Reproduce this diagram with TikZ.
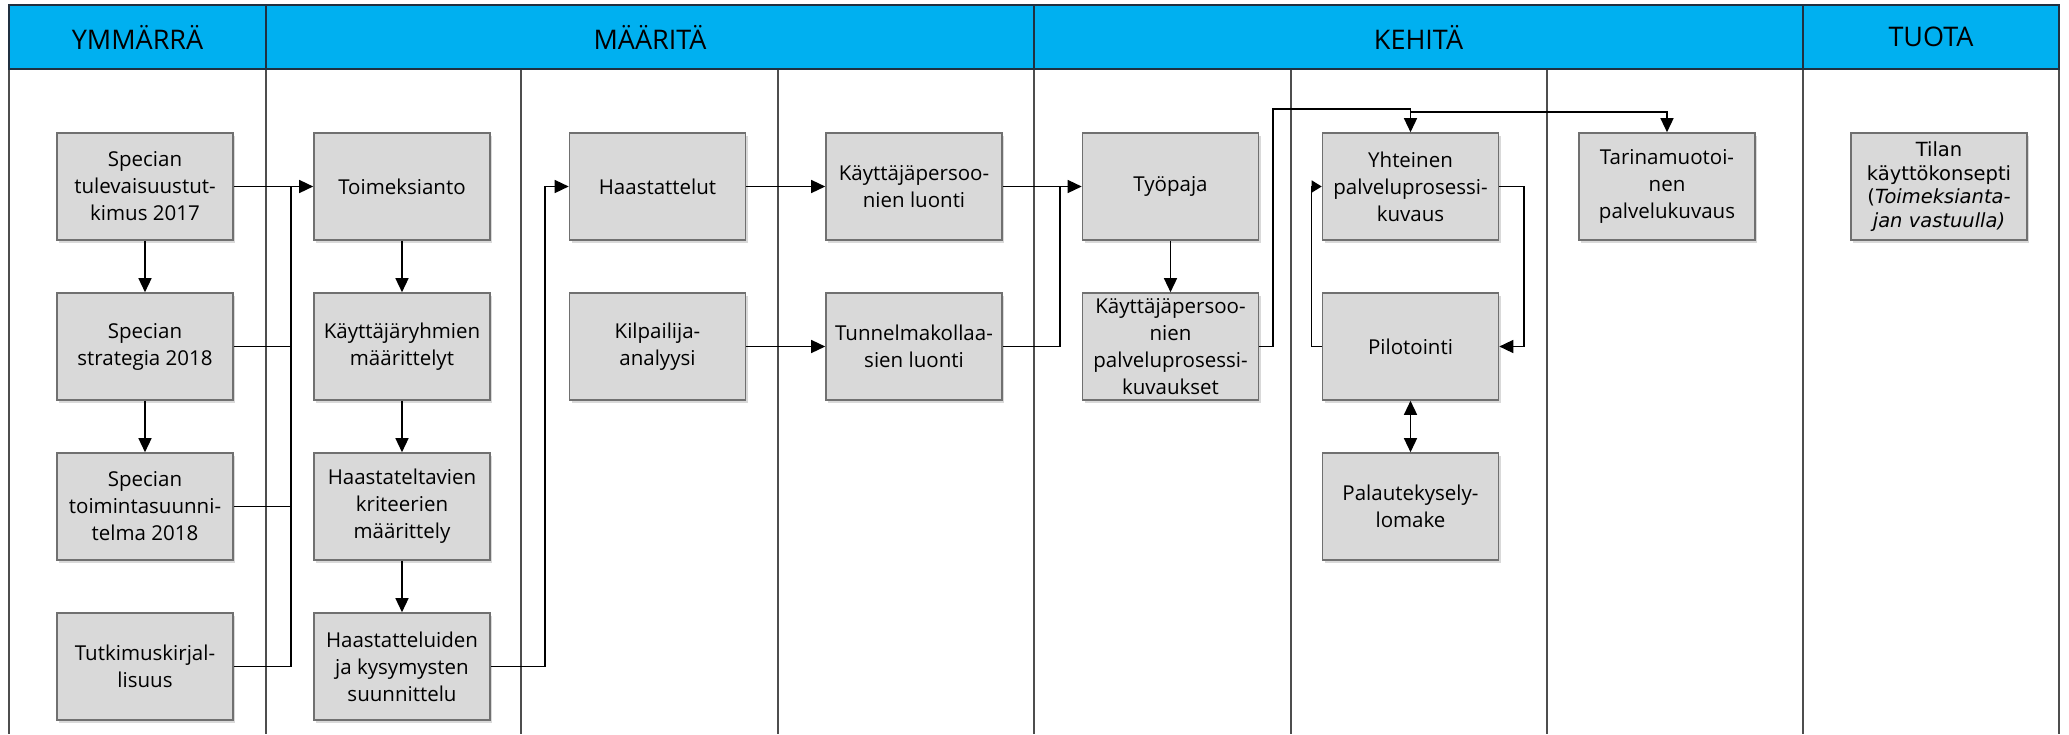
\documentclass[tikz,border=0pt]{standalone}
\usepackage{fontspec}
\setmainfont{Open Sans}
\newfontfamily\tilafont{DejaVu Sans}
\usetikzlibrary{arrows.meta,shadows}
\definecolor{hdrblue}{HTML}{00B0F0}
\definecolor{boxfill}{HTML}{D9D9D9}
\definecolor{boxline}{HTML}{707070}
\definecolor{laneline}{HTML}{4D4D4D}
\definecolor{hdrline}{HTML}{203040}
\begin{document}
\begin{tikzpicture}[x=1pt,y=-1pt,
  box/.style={draw=boxline, line width=1.6pt, fill=boxfill, minimum width=176pt, minimum height=107pt,
    inner sep=0pt, align=center, font=\fontsize{20.5}{27}\selectfont,
    drop shadow={shadow xshift=2pt, shadow yshift=-3pt, fill=black, opacity=0.15}},
  conn/.style={draw=black, line width=1.4pt},
  arr/.style={conn, -{Triangle[length=14pt,width=13pt]}},
  darr/.style={conn, {Triangle[length=14pt,width=13pt]}-{Triangle[length=14pt,width=13pt]}},
  lane/.style={draw=laneline, line width=2pt},
  hdrtext/.style={font=\fontsize{27}{32}\selectfont, text=black, inner sep=0pt}
]
\useasboundingbox (0,0) rectangle (2069,734);
\fill[white] (0,0) rectangle (2069,734);
% lanes
\foreach \x in {9,266,521,778,1034,1291,1547,1803,2059}
  \draw[lane] (\x,69) -- (\x,734);
% header
\draw[fill=hdrblue, draw=hdrline, line width=2pt] (9,5) rectangle (2059,69);
\foreach \x in {266,1034,1803}
  \draw[draw=hdrline, line width=2pt] (\x,5) -- (\x,69);
\node[hdrtext] (hY) at (137.5,37) {YMMÄRRÄ};
\node[hdrtext] (hM) at (650,37) {MÄÄRITÄ};
\node[hdrtext] (hK) at (1418.5,37) {KEHITÄ};
\node[hdrtext] (hT) at (1931,37) {TUOTA};
% boxes
\node[box] (s1) at (145,186.5) {Specian\\tulevaisuustut-\\kimus 2017};
\node[box] (s2) at (145,346.5) {Specian\\strategia 2018};
\node[box] (s3) at (145,506.5) {Specian\\toimintasuunni-\\telma 2018};
\node[box] (s4) at (145,666.5) {Tutkimuskirjal-\\lisuus};
\node[box] (toim) at (402,186.5) {Toimeksianto};
\node[box] (kryh) at (402,346.5) {Käyttäjäryhmien\\määrittelyt};
\node[box] (hkrit) at (402,506.5) {Haastateltavien\\kriteerien\\määrittely};
\node[box] (hsuun) at (402,666.5) {Haastatteluiden\\ja kysymysten\\suunnittelu};
\node[box] (haast) at (657.5,186.5) {Haastattelut};
\node[box] (kilp) at (657.5,346.5) {Kilpailija-\\analyysi};
\node[box] (kpl) at (914,186.5) {Käyttäjäpersoo-\\nien luonti};
\node[box] (tunn) at (914,346.5) {Tunnelmakollaa-\\sien luonti};
\node[box] (tyop) at (1170.5,186.5) {Työpaja};
\node[box] (kpk) at (1170.5,346.5) {Käyttäjäpersoo-\\nien\\palveluprosessi-\\kuvaukset};
\node[box] (yht) at (1410.5,186.5) {Yhteinen\\palveluprosessi-\\kuvaus};
\node[box] (pil) at (1410.5,346.5) {Pilotointi};
\node[box] (pal) at (1410.5,506.5) {Palautekysely-\\lomake};
\node[box] (tar) at (1667,186.5) {Tarinamuotoi-\\nen\\palvelukuvaus};
\node[box, font=\tilafont\fontsize{19.5}{23.5}\selectfont] (tila) at (1939,186.5)
  {Tilan\\käyttökonsepti\\(\textit{Toimeksianta-}\\\textit{jan vastuulla)}};
% connectors
\coordinate (j1) at (291,186.5);
\draw[arr] (s1.east) -- (toim.west);
\draw[conn] (s2.east) -| (j1);
\draw[conn] (s3.east) -| (j1);
\draw[conn] (s4.east) -| (j1);
\draw[arr] (s1.south) -- (s2.north);
\draw[arr] (s2.south) -- (s3.north);
\draw[arr] (toim.south) -- (kryh.north);
\draw[arr] (kryh.south) -- (hkrit.north);
\draw[arr] (hkrit.south) -- (hsuun.north);
\coordinate (j2) at (545,666.5);
\draw[arr] (hsuun.east) -- (j2) |- (haast.west);
\draw[arr] (haast.east) -- (kpl.west);
\draw[arr] (kilp.east) -- (tunn.west);
\draw[arr] (kpl.east) -- (tyop.west);
\coordinate (j3) at (1060,186.5);
\draw[conn] (tunn.east) -| (j3);
\draw[arr] (tyop.south) -- (kpk.north);
\coordinate (j4) at (1273,109);
\draw[arr] (kpk.east) -| (j4) -| (yht.north);
\coordinate (j6) at (1410.5,112);
\draw[arr] (j6) -| (tar.north);
\coordinate (j7) at (1524,186.5);
\draw[arr] (yht.east) -- (j7) |- (pil.east);
\coordinate (j8) at (1311.5,346.5);
\draw[conn, -{Triangle[length=10pt,width=12pt]}] (pil.west) -- (j8) |- (yht.west);
\draw[darr] (pil.south) -- (pal.north);
\end{tikzpicture}
\end{document}
